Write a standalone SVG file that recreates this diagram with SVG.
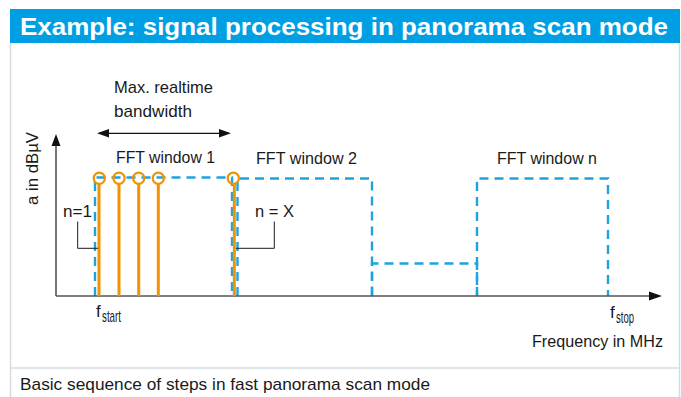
<svg xmlns="http://www.w3.org/2000/svg" width="681" height="397" viewBox="0 0 681 397">
<style>
.t{font-family:"Liberation Sans",Arial,sans-serif;font-size:17px;fill:#1a1a1a}
.dash{fill:none;stroke:#1ea3e0;stroke-width:2.4;stroke-dasharray:9 6}
.stem{stroke:#f39200;stroke-width:3}
.dot{fill:none;stroke:#f39200;stroke-width:2.2}
.lead{fill:none;stroke:#1a1a1a;stroke-width:1}
.axis{stroke:#555;stroke-width:1.6;fill:none}
</style>
<rect x="0" y="0" width="681" height="397" fill="#fff"/>
<g id="frame">
<rect x="10" y="9" width="670" height="34" fill="#009fe3"/>
<line x1="10.5" y1="43" x2="10.5" y2="397" stroke="#d5dbe1" stroke-width="1.5"/>
<line x1="679.5" y1="43" x2="679.5" y2="397" stroke="#d5dbe1" stroke-width="1.5"/>
<line x1="10" y1="368" x2="680" y2="368" stroke="#d5dbe1" stroke-width="1.5"/>
<text x="20" y="35" font-family="Liberation Sans,Arial,sans-serif" font-weight="bold" font-size="24" fill="#fff" textLength="648" lengthAdjust="spacingAndGlyphs">Example: signal processing in panorama scan mode</text>
<text class="t" x="20" y="390" textLength="410" lengthAdjust="spacingAndGlyphs">Basic sequence of steps in fast panorama scan mode</text>
</g>
<g id="windows">
<path class="dash" d="M95,296 V177.5 H232 V296"/>
<path class="dash" d="M237.5,296 V178.5 H372 V296"/>
<path class="dash" d="M372,296 V263.5 H477 V296"/>
<path class="dash" d="M477,296 V178.5 H608 V296"/>
</g>
<g id="axes">
<line class="axis" x1="56" y1="296" x2="56" y2="144"/>
<polygon points="56,134 51.5,146 60.5,146" fill="#111"/>
<line class="axis" x1="56" y1="296" x2="652" y2="296"/>
<polygon points="662,296 649,291.5 649,300.5" fill="#111"/>
<text class="t" transform="translate(38,205) rotate(-90)" textLength="73" lengthAdjust="spacingAndGlyphs">a in dBµV</text>
<text class="t" x="532" y="347" textLength="131" lengthAdjust="spacingAndGlyphs">Frequency in MHz</text>
<text class="t" x="96" y="317">f</text>
<text class="t" x="102" y="322" font-size="10" textLength="19" lengthAdjust="spacingAndGlyphs">start</text>
<text class="t" x="610" y="318">f</text>
<text class="t" x="616" y="323" font-size="10" textLength="18" lengthAdjust="spacingAndGlyphs">stop</text>
</g>
<g id="bandwidth">
<line x1="106" y1="133.3" x2="222" y2="133.3" stroke="#111" stroke-width="1.3"/>
<polygon points="97,133.3 109,129 109,137.6" fill="#111"/>
<polygon points="231,133.3 219,129 219,137.6" fill="#111"/>
<text class="t" x="114" y="93" textLength="99" lengthAdjust="spacingAndGlyphs">Max. realtime</text>
<text class="t" x="114" y="117" textLength="78" lengthAdjust="spacingAndGlyphs">bandwidth</text>
</g>
<g id="labels">
<text class="t" x="116" y="163" textLength="99" lengthAdjust="spacingAndGlyphs">FFT window 1</text>
<text class="t" x="256" y="164" textLength="101" lengthAdjust="spacingAndGlyphs">FFT window 2</text>
<text class="t" x="497" y="164" textLength="100" lengthAdjust="spacingAndGlyphs">FFT window n</text>
</g>
<g id="samples">
<line class="stem" x1="99" y1="184" x2="99" y2="296"/>
<line class="stem" x1="119" y1="184" x2="119" y2="296"/>
<line class="stem" x1="138.7" y1="184" x2="138.7" y2="296"/>
<line class="stem" x1="158.3" y1="184" x2="158.3" y2="296"/>
<line class="stem" x1="234.3" y1="184" x2="234.3" y2="296"/>
<circle class="dot" cx="99.3" cy="178.3" r="5.6"/>
<circle class="dot" cx="119" cy="178.3" r="5.6"/>
<circle class="dot" cx="138.7" cy="178.3" r="5.6"/>
<circle class="dot" cx="158.3" cy="178.3" r="5.6"/>
<circle class="dot" cx="233.3" cy="178.3" r="5.6"/>
</g>
<g id="n1">
<path class="lead" d="M77.7,221.5 V248.3 H98"/>
<text class="t" x="63" y="217" textLength="29" lengthAdjust="spacingAndGlyphs">n=1</text>
</g>
<g id="nX">
<path class="lead" d="M274.3,221.5 V248.3 H236"/>
<text class="t" x="255" y="217" textLength="39" lengthAdjust="spacingAndGlyphs">n = X</text>
</g>
</svg>
